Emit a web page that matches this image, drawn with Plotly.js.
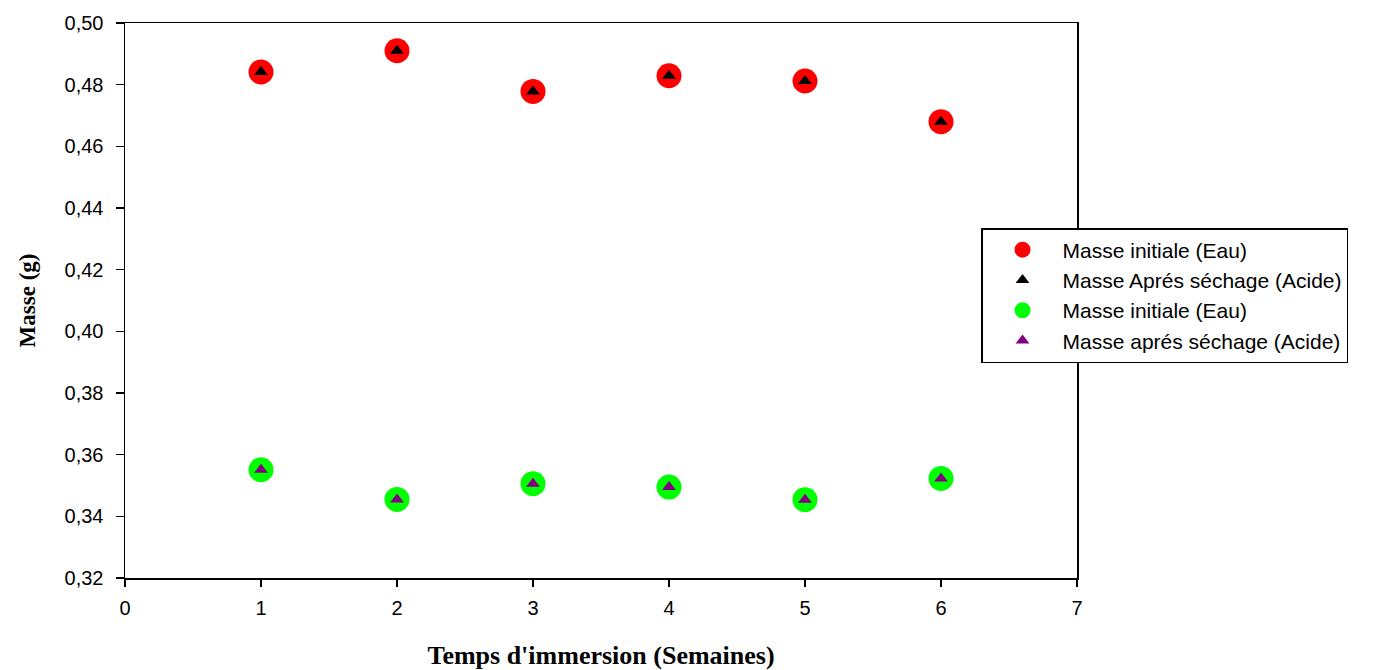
<!DOCTYPE html>
<html>
<head>
<meta charset="utf-8">
<script src="https://cdn.plot.ly/plotly-3.0.1.min.js"></script>
<style>
  html, body { margin: 0; padding: 0; background: #ffffff; }
  #chart { width: 1383px; height: 670px; }
</style>
</head>
<body>
<div id="chart"></div>
<script>
// Data
const weeks = [1, 2, 3, 4, 5, 6];
const masseInitialeRouge = [0.4841, 0.4910, 0.4778, 0.4829, 0.4812, 0.4680];
const masseApresSechageNoir = [0.4841, 0.4910, 0.4778, 0.4829, 0.4812, 0.4680];
const masseInitialeVert = [0.3551, 0.3455, 0.3506, 0.3495, 0.3454, 0.3523];
const masseApresSechageViolet = [0.3551, 0.3455, 0.3506, 0.3495, 0.3454, 0.3523];
const seriesNames = [
  'Masse initiale (Eau)',
  'Masse Aprés séchage (Acide)',
  'Masse initiale (Eau)',
  'Masse aprés séchage (Acide)'
];
const xTitle = "Temps d'immersion (Semaines)";
const yTitle = 'Masse (g)';

const sans = 'Liberation Sans, Arial, sans-serif';
const serif = 'Liberation Serif, Times New Roman, serif';

const traces = [
  {x: weeks, y: masseInitialeRouge, name: seriesNames[0], mode: 'markers', type: 'scatter',
   marker: {symbol: 'circle', color: '#ff0000', size: 25, line: {width: 0}}},
  {x: weeks, y: masseApresSechageNoir, name: seriesNames[1], mode: 'markers', type: 'scatter',
   marker: {symbol: 'triangle-up', color: '#000000', size: 12, line: {width: 0}}},
  {x: weeks, y: masseInitialeVert, name: seriesNames[2], mode: 'markers', type: 'scatter',
   marker: {symbol: 'circle', color: '#00ff00', size: 25, line: {width: 0}}},
  {x: weeks, y: masseApresSechageViolet, name: seriesNames[3], mode: 'markers', type: 'scatter',
   marker: {symbol: 'triangle-up', color: '#800080', size: 12, line: {width: 0}}}
];

const layout = {
  width: 1383, height: 670,
  paper_bgcolor: '#ffffff', plot_bgcolor: '#ffffff',
  separators: ', ',
  margin: {l: 125, r: 306, t: 23, b: 92, autoexpand: false},
  font: {family: sans, size: 20, color: '#000000'},
  showlegend: true,
  legend: {
    x: 0.8992, y: 0.6306, xanchor: 'left', yanchor: 'top',
    bgcolor: '#ffffff', bordercolor: '#000000', borderwidth: 1.5,
    font: {family: sans, size: 21, color: '#000000'},
    itemwidth: 70, itemsizing: 'trace'
  },
  xaxis: {
    range: [0, 7], dtick: 1, tick0: 0,
    showgrid: false, zeroline: false,
    showline: true, linecolor: '#000000', linewidth: 1.5, mirror: true,
    ticks: 'outside', ticklen: 7, tickwidth: 1.5, tickcolor: '#000000',
    ticklabelstandoff: 4,
    tickfont: {family: sans, size: 20, color: '#000000'},
    title: {text: xTitle, font: {family: serif, size: 26, color: '#000000', weight: 'bold'}, standoff: 28},
    automargin: true
  },
  yaxis: {
    range: [0.32, 0.50], dtick: 0.02, tick0: 0.32, tickformat: '.2f',
    showgrid: false, zeroline: false,
    showline: true, linecolor: '#000000', linewidth: 1.5, mirror: true,
    ticks: 'outside', ticklen: 8, tickwidth: 1.5, tickcolor: '#000000',
    ticklabelstandoff: 8,
    tickfont: {family: sans, size: 20, color: '#000000'},
    title: {text: yTitle, font: {family: serif, size: 23, color: '#000000', weight: 'bold'}, standoff: 22},
    automargin: true
  }
};

Plotly.newPlot('chart', traces, layout, {displayModeBar: false, staticPlot: true});
</script>
</body>
</html>
